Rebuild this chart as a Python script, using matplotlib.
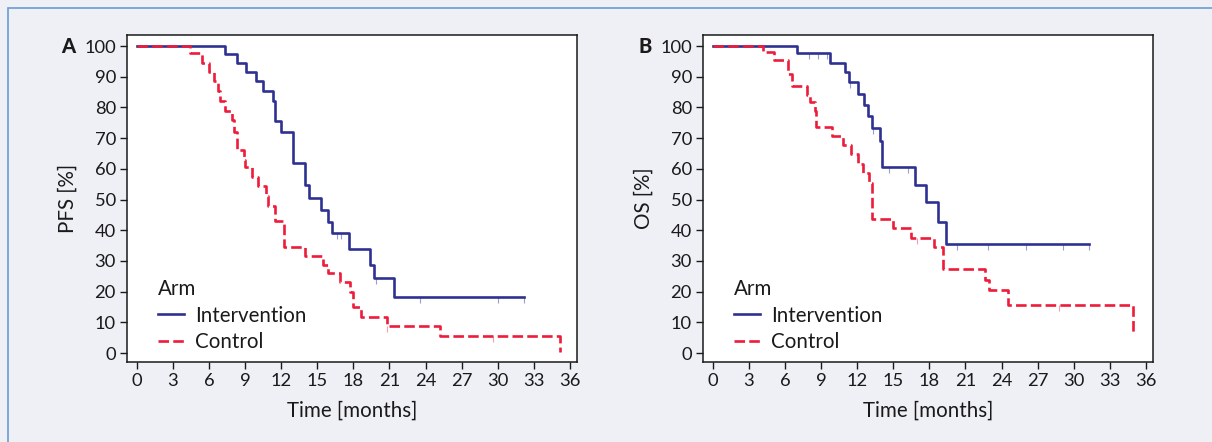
import matplotlib
matplotlib.use("Agg")
import matplotlib.pyplot as plt
from matplotlib.patches import Rectangle
from matplotlib.lines import Line2D

# PFS (panel A)
pfs_int_t = [0, 7.3, 8.3, 9.1, 9.9, 10.5, 11.3, 11.5, 12.0, 13.0, 14.0, 14.3, 15.3, 15.9, 16.2, 17.6, 19.4, 19.7, 21.4, 32.2]
pfs_int_s = [100, 97.3, 94.6, 91.6, 88.6, 85.4, 82.1, 75.6, 72.1, 61.8, 54.6, 50.4, 46.6, 42.6, 39.0, 33.9, 28.7, 24.4, 18.2, 18.2]
pfs_int_cens = [16.6, 17.0, 19.9, 23.5, 30.0, 32.2]

pfs_ctl_t = [0, 4.4, 5.4, 6.0, 6.4, 6.7, 6.9, 7.3, 7.9, 8.1, 8.3, 8.9, 9.0, 9.6, 10.1, 10.7, 10.9, 11.5,
             12.2, 14.0, 15.5, 15.9, 16.9, 17.7, 18.0, 18.6, 20.8, 25.2, 35.2]
pfs_ctl_s = [100, 97.6, 94.6, 91.6, 88.5, 85.5, 82.0, 79.0, 76.0, 72.0, 66.0, 63.0, 60.5, 57.5, 54.5, 51.0, 48.0, 43.0,
             34.5, 31.5, 28.7, 26.0, 23.0, 20.0, 15.0, 11.7, 8.7, 5.7, 0.3]
pfs_ctl_cens = [20.8, 29.6]

# OS (panel B)
os_int_t = [0, 7.0, 9.7, 11.0, 11.3, 12.1, 12.6, 12.9, 13.2, 13.9, 14.1, 16.8, 17.7, 18.7, 19.4, 31.3]
os_int_s = [100, 97.8, 94.6, 91.5, 88.2, 84.4, 80.8, 77.1, 73.2, 69.2, 60.5, 54.8, 49.2, 42.8, 35.6, 35.6]
os_int_cens = [8.0, 8.7, 9.5, 11.4, 13.3, 14.6, 16.2, 20.3, 22.9, 26.0, 29.1, 31.3]

os_ctl_t = [0, 4.2, 5.1, 6.2, 6.6, 7.8, 8.1, 8.5, 8.6, 9.9, 10.8, 11.5, 12.1, 12.5, 13.0, 13.2, 15.0, 16.5,
            18.4, 19.1, 22.6, 23.0, 24.5, 34.9]
os_ctl_s = [100, 98.0, 95.3, 91.0, 87.1, 83.9, 81.9, 79.0, 73.5, 70.6, 67.8, 64.8, 61.5, 58.6, 55.5, 43.6, 40.8, 37.6,
            34.4, 27.5, 23.7, 20.4, 15.8, 6.0]
os_ctl_cens = [17.0, 28.8]

x_ticks = list(range(0, 37, 3))
y_ticks = list(range(0, 101, 10))

BLUE = "#2e3192"
RED = "#ed1c3a"
BG = "#eff0f6"
INK = "#1a1a1a"

plt.rcParams["font.family"] = ["Lato", "DejaVu Sans"]

fig = plt.figure(figsize=(12.12, 4.42), dpi=100, facecolor=BG)
fig.patches.append(Rectangle((8 / 1212, -0.1), 1.2, (434 / 442) + 0.1, transform=fig.transFigure,
                             facecolor="none", edgecolor="#6a9bd1", linewidth=1.2))


def surv_at(ts, ss, t):
    v = ss[0]
    for ti, si in zip(ts, ss):
        if ti <= t:
            v = si
    return v


def panel(rect, letter, ylabel, it, is_, ic, ct, cs, cc):
    ax = fig.add_axes(rect)
    ax.set_facecolor("white")
    ax.step(it, is_, where="post", color=BLUE, lw=1.9, label="Intervention", zorder=3)
    ax.step(ct, cs, where="post", color=RED, lw=1.9, dashes=(4, 1.6), label="Control", zorder=4)
    ax.plot(ic, [surv_at(it, is_, t) for t in ic], ls="none", marker=3, ms=4, mew=0.8,
            color="#9a9ed0", zorder=2)
    ax.plot(cc, [surv_at(ct, cs, t) for t in cc], ls="none", marker=3, ms=4, mew=0.8,
            color="#f4a0ac", zorder=2)
    ax.set_xlim(-0.83, 36.6)
    ax.set_ylim(-2.93, 103.6)
    ax.set_xticks(x_ticks)
    ax.set_yticks(y_ticks)
    ax.tick_params(direction="out", length=5, width=1, labelsize=13.2, pad=3, colors=INK)
    for sp in ax.spines.values():
        sp.set_linewidth(1.1)
        sp.set_color(INK)
    ax.set_xlabel("Time [months]", fontsize=14.8, labelpad=8, color=INK)
    ax.set_ylabel(ylabel, fontsize=14.8, labelpad=5, color=INK)
    ax.text(-0.115, 100, letter, transform=ax.get_yaxis_transform(), fontsize=14.5, fontweight="black",
            ha="right", va="center", color=INK)
    handles = [Line2D([], [], color=BLUE, lw=1.9),
               Line2D([], [], color=RED, lw=1.9, dashes=(4, 1.6))]
    leg = ax.legend(handles, ["Intervention", "Control"], title="Arm", loc="lower left",
                    bbox_to_anchor=(0.047, 0.0), frameon=False, fontsize=14.8, title_fontsize=14.8,
                    handlelength=1.25, handletextpad=0.55, labelspacing=0.3, borderpad=0,
                    alignment="left")
    plt.setp(leg.get_texts(), color=INK)
    leg.get_title().set_color(INK)
    return ax


panel([127 / 1212, 80 / 442, 450 / 1212, 327 / 442], "A", "PFS [%]",
      pfs_int_t, pfs_int_s, pfs_int_cens, pfs_ctl_t, pfs_ctl_s, pfs_ctl_cens)
panel([703 / 1212, 80 / 442, 450 / 1212, 327 / 442], "B", "OS [%]",
      os_int_t, os_int_s, os_int_cens, os_ctl_t, os_ctl_s, os_ctl_cens)

fig.savefig("out.png", dpi=100, facecolor=BG)
